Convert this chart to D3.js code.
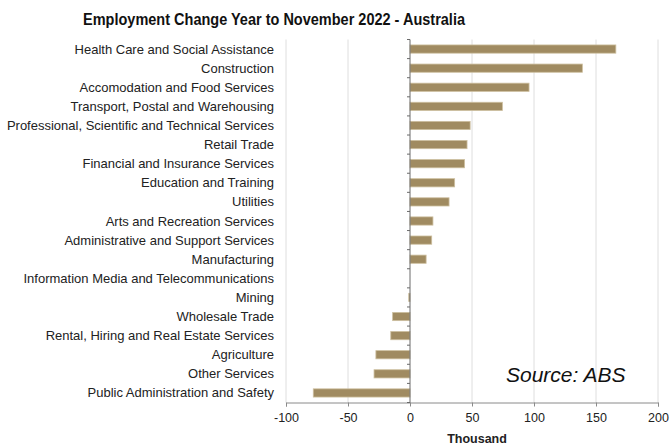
<!DOCTYPE html>
<html>
<head>
<meta charset="utf-8">
<script src="https://cdn.jsdelivr.net/npm/d3@7"></script>
<style>
  html, body { margin: 0; padding: 0; background: #fff; }
  svg { display: block; font-family: "Liberation Sans", Arial, sans-serif; }
</style>
</head>
<body>
<svg id="chart" width="670" height="445"></svg>
<script>
// Industries, top to bottom
const industries = [
  "Health Care and Social Assistance",
  "Construction",
  "Accomodation and Food Services",
  "Transport, Postal and Warehousing",
  "Professional, Scientific and Technical Services",
  "Retail Trade",
  "Financial and Insurance Services",
  "Education and Training",
  "Utilities",
  "Arts and Recreation Services",
  "Administrative and Support Services",
  "Manufacturing",
  "Information Media and Telecommunications",
  "Mining",
  "Wholesale Trade",
  "Rental, Hiring and Real Estate Services",
  "Agriculture",
  "Other Services",
  "Public Administration and Safety"
];
// Employment change, thousands
const changes = [166, 139, 96, 74.5, 48.5, 46, 44, 36, 31.5, 18.5, 17.5, 13, 0, -1, -14, -15.5, -27.5, -29, -78];
const xTicks = [-100, -50, 0, 50, 100, 150, 200];

const svg = d3.select("#chart");
const plotLeft = 286, plotRight = 658, plotTop = 39.5, plotBottom = 402.5;

const x = d3.scaleLinear().domain([-100, 200]).range([plotLeft, plotRight]);
const y = d3.scaleBand().domain(industries).range([plotTop, plotBottom]).paddingInner(0.57).paddingOuter(0.285);

// vertical gridlines
svg.append("g").selectAll("line")
  .data(xTicks.filter(d => d !== 0))
  .join("line")
  .attr("x1", d => x(d)).attr("x2", d => x(d))
  .attr("y1", plotTop).attr("y2", plotBottom)
  .attr("stroke", "#dedede").attr("stroke-width", 1);

// bars
svg.append("g").selectAll("rect")
  .data(industries.map((name, i) => ({ name, v: changes[i] })))
  .join("rect")
  .attr("x", d => x(Math.min(0, d.v)))
  .attr("width", d => Math.abs(x(d.v) - x(0)))
  .attr("y", d => y(d.name))
  .attr("height", y.bandwidth())
  .attr("fill", "#a08b61")
  .attr("stroke", "#cdbf9f")
  .attr("stroke-width", 0.8);

// x axis
const xAxis = svg.append("g")
  .attr("transform", `translate(0,${plotBottom})`)
  .call(d3.axisBottom(x).tickValues(xTicks).tickSize(4).tickPadding(7).tickFormat(d => String(d)));
xAxis.select(".domain").attr("stroke", "#8a8a8a");
xAxis.selectAll(".tick line").attr("stroke", "#8a8a8a");
xAxis.selectAll(".tick text")
  .attr("font-size", 12.5).attr("fill", "#222")
  .attr("font-family", "Liberation Sans, Arial, sans-serif");

// zero line with category tick marks
const zx = x(0);
svg.append("line")
  .attr("x1", zx).attr("x2", zx).attr("y1", plotTop).attr("y2", plotBottom)
  .attr("stroke", "#6a6a6a").attr("stroke-width", 1);
svg.append("g").selectAll("line")
  .data(d3.range(industries.length + 1))
  .join("line")
  .attr("x1", zx - 3).attr("x2", zx)
  .attr("y1", i => plotTop + i * y.step())
  .attr("y2", i => plotTop + i * y.step())
  .attr("stroke", "#6a6a6a");

// category labels
svg.append("g").selectAll("text")
  .data(industries)
  .join("text")
  .attr("x", 274)
  .attr("y", d => y(d) + y.bandwidth() / 2)
  .attr("dy", "0.35em")
  .attr("text-anchor", "end")
  .attr("font-size", 13)
  .attr("fill", "#222")
  .text(d => d);

// title
svg.append("text")
  .attr("x", 274).attr("y", 25)
  .attr("text-anchor", "middle")
  .attr("font-size", 17).attr("font-weight", "bold")
  .attr("fill", "#111")
  .attr("textLength", 382).attr("lengthAdjust", "spacingAndGlyphs")
  .text("Employment Change Year to November 2022 - Australia");

// axis title
svg.append("text")
  .attr("x", 477).attr("y", 443)
  .attr("text-anchor", "middle")
  .attr("font-size", 12.5).attr("font-weight", "bold")
  .attr("fill", "#222")
  .text("Thousand");

// source note
svg.append("text")
  .attr("x", 506).attr("y", 382)
  .attr("font-size", 21).attr("font-style", "italic")
  .attr("fill", "#111")
  .text("Source: ABS");
</script>
</body>
</html>
